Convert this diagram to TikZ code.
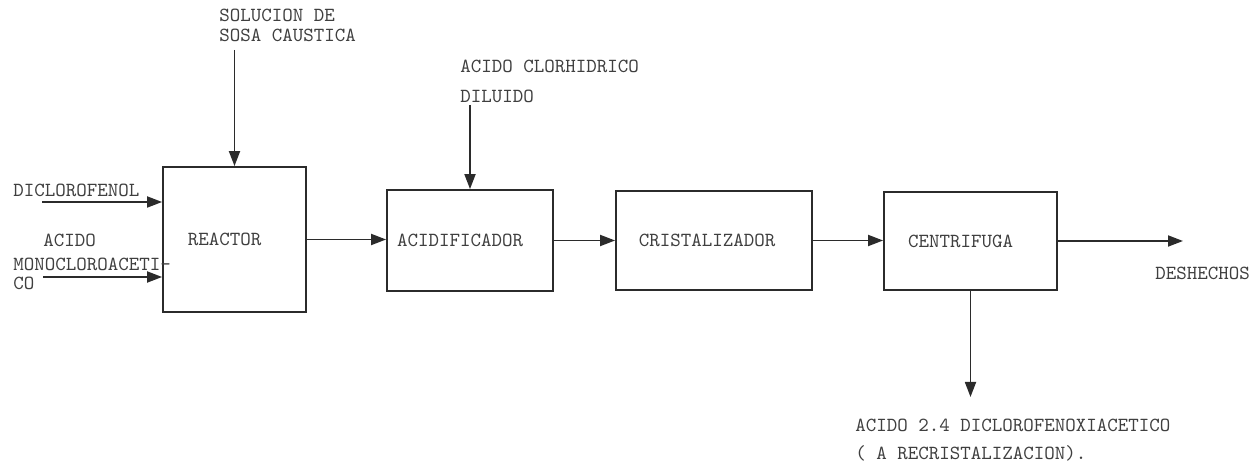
\documentclass[tikz,border=0pt]{standalone}
\usepackage{tikz}
\usepackage{xcolor}
\usetikzlibrary{arrows.meta,positioning}
\definecolor{ink}     {HTML}{2B2B2B}
\definecolor{inkgray} {HTML}{3F3F3F}
\newcommand{\boxshift}{\hspace*{-10pt}}
\tikzset{
  unit/.style={draw=ink,line width=0.9pt,fill=white,inner sep=2pt,
               font=\ttfamily\fontsize{10}{12}\selectfont,text=inkgray},
  flow/.style={draw=ink,line width=0.9pt,-{Triangle[length=7.5pt,width=5.5pt]}},
  tag/.style={anchor=base west,inner sep=0pt,
              font=\ttfamily\fontsize{10}{12}\selectfont,text=inkgray}
}
\begin{document}
\begin{tikzpicture}[x=0.5pt,y=-0.5pt]
  \useasboundingbox (0,0) rectangle (1259,469);
  % process units
  \node[unit,minimum width=71.5pt,minimum height=72.5pt] (reactor) at (234.5,239.5) {\boxshift REACTOR};
  \node[unit,minimum width=83pt,minimum height=50.5pt] (acid) at (470,240.5) {\boxshift ACIDIFICADOR};
  \node[unit,minimum width=98pt,minimum height=49.5pt] (crist) at (714,240.5) {\hspace*{-7pt}CRISTALIZADOR};
  \node[unit,minimum width=86.5pt,minimum height=49pt] (centr) at (970.5,241) {\boxshift CENTRIFUGA};
  % free ends of the streams
  \coordinate (sosain) at (234.5,50);
  \coordinate (dcfin)  at (42,202);
  \coordinate (mcain)  at (43,277);
  \coordinate (hclin)  at (470,105);
  \coordinate (waste)  at (1183,241);
  \coordinate (prod)   at (970.5,397);
  % stream labels
  \node[tag] (sosa1) at (219,22)  {SOLUCION DE};
  \node[tag] (sosa2) at (219,42)  {SOSA CAUSTICA};
  \node[tag] (dcf)   at (13,197)  {DICLOROFENOL};
  \node[tag] (mca1)  at (43,247)  {ACIDO};
  \node[tag] (mca2)  at (13,271)  {MONOCLOROACETI-};
  \node[tag] (mca3)  at (13,290)  {CO};
  \node[tag] (hcl1)  at (460,73)  {ACIDO CLORHIDRICO};
  \node[tag] (hcl2)  at (460,103) {DILUIDO};
  \node[tag] (desh)  at (1155,280) {DESHECHOS};
  \node[tag] (prod1) at (855,432) {ACIDO 2.4 DICLOROFENOXIACETICO};
  \node[tag] (prod2) at (855,460) {( A RECRISTALIZACION).};
  % streams
  \draw[flow] (sosain) -- (reactor.north);
  \draw[flow] (dcfin) -- (dcfin -| reactor.west);
  \draw[flow] (mcain) -- (mcain -| reactor.west);
  \draw[flow] (reactor.east) -- (reactor.east -| acid.west);
  \draw[flow] (hclin) -- (acid.north);
  \draw[flow] (acid.east) -- (acid.east -| crist.west);
  \draw[flow] (crist.east) -- (crist.east -| centr.west);
  \draw[flow] (centr.east) -- (centr.east -| waste);
  \draw[flow] (centr.south) -- (prod);
\end{tikzpicture}
\end{document}
